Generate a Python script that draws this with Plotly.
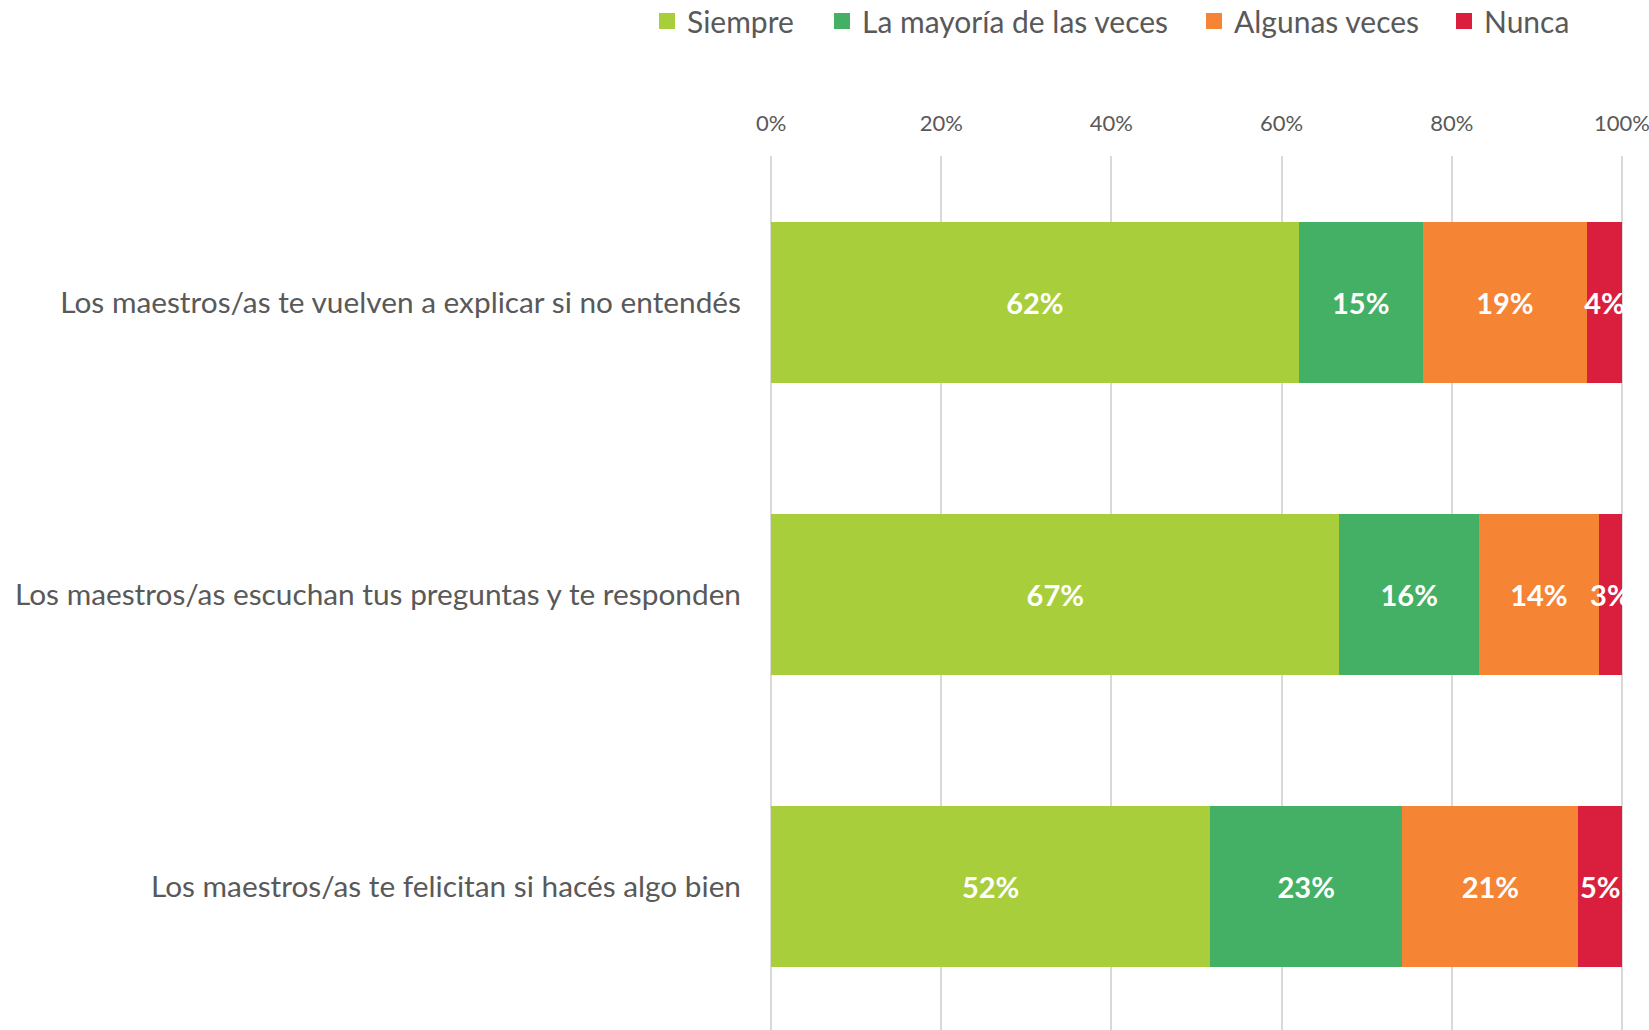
import plotly.graph_objects as go

# Survey items (top to bottom)
categories = [
    "Los maestros/as te vuelven a explicar si no entendés",
    "Los maestros/as escuchan tus preguntas y te responden",
    "Los maestros/as te felicitan si hacés algo bien",
]

# Share of answers per item, in percent
siempre = [62.0, 66.8, 51.6]
mayoria = [14.6, 16.4, 22.6]
algunas = [19.3, 14.1, 20.7]
nunca = [4.1, 2.7, 5.1]

series_names = ["Siempre", "La mayoría de las veces", "Algunas veces", "Nunca"]
series_values = [siempre, mayoria, algunas, nunca]
series_colors = ["#A8CE3B", "#43B065", "#F58435", "#DA1F3E"]

tick_values = [0, 20, 40, 60, 80, 100]
tick_labels = ["0%", "20%", "40%", "60%", "80%", "100%"]

FONT = "Lato"
GREY = "#595959"
W, H = 1649, 1030

# left edge (px) of each legend entry along the top row
legend_left_px = [647, 822, 1194, 1444]
legend_ids = ["legend", "legend2", "legend3", "legend4"]

fig = go.Figure()
for name, vals, col, lid in zip(series_names, series_values, series_colors, legend_ids):
    fig.add_trace(go.Bar(
        name=name,
        y=categories,
        x=vals,
        orientation="h",
        legendgroup=name,
        showlegend=False,
        marker=dict(color=col, line=dict(width=0)),
        texttemplate="%{x:.0f}%",
        textposition="inside",
        insidetextanchor="middle",
        textangle=0,
        constraintext="none",
        cliponaxis=True,
        textfont=dict(family=FONT, size=29, color="white", weight="bold"),
    ))
    # square swatch shown in the legend
    fig.add_trace(go.Scatter(
        name=name,
        x=[None], y=[None],
        mode="markers",
        legendgroup=name,
        legend=lid,
        showlegend=True,
        marker=dict(symbol="square", size=17, color=col),
        hoverinfo="skip",
    ))

legend_common = dict(
    orientation="h",
    xref="container", yref="container",
    xanchor="left",
    y=1 - 21 / H, yanchor="middle",
    font=dict(size=30, color=GREY, family=FONT),
    bgcolor="rgba(0,0,0,0)",
)
legend_layout = {}
for lid, px in zip(legend_ids, legend_left_px):
    legend_layout[lid] = dict(legend_common, x=px / W)

fig.update_layout(
    width=W,
    height=H,
    barmode="stack",
    bargap=0.45,
    paper_bgcolor="white",
    plot_bgcolor="white",
    font=dict(family=FONT, color=GREY),
    margin=dict(l=769, r=25, t=156, b=0),
    xaxis=dict(
        side="top",
        range=[-0.25, 100.25],
        tickvals=tick_values,
        ticktext=tick_labels,
        tickfont=dict(size=22, color=GREY),
        ticklabeloverflow="allow",
        showgrid=True,
        gridcolor="#D9D9D9",
        gridwidth=1.5,
        zeroline=False,
        showline=False,
        ticks="",
        ticklabelstandoff=20,
    ),
    yaxis=dict(
        categoryorder="array",
        categoryarray=categories,
        range=[2.49, -0.5],
        tickfont=dict(size=29.8, color=GREY),
        showgrid=False,
        zeroline=False,
        showline=False,
        ticks="",
        ticklabelstandoff=27,
    ),
    **legend_layout,
)

fig.write_html("out.html")
